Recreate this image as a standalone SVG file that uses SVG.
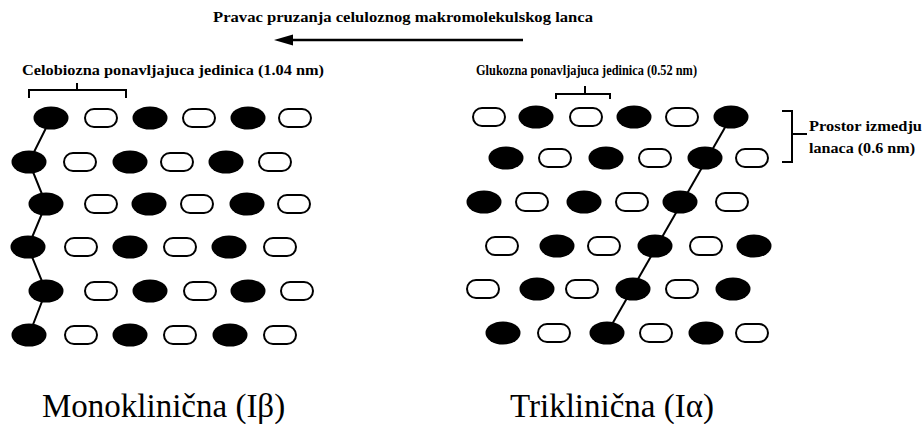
<svg xmlns="http://www.w3.org/2000/svg" xmlns:xlink="http://www.w3.org/1999/xlink" width="924" height="424" viewBox="0 0 924 424">
<style>
.hb{font-family:"Liberation Serif","DejaVu Serif","Times New Roman",Times,serif;font-weight:bold;fill:#000}
.lb{font-family:"Liberation Serif","DejaVu Serif","Times New Roman",Times,serif;fill:#000;font-size:33px}
.ln{stroke:#000;stroke-width:2;fill:none}
.f{fill:#000}
.o{fill:#fff;stroke:#000;stroke-width:2}
</style>
<defs>
<ellipse id="F" class="f" cx="0" cy="0" rx="17.5" ry="11.5"/>
<rect id="O" class="o" x="-16" y="-9" width="32" height="18" rx="9"/>
</defs>
<rect width="924" height="424" fill="#fff"/>

<g id="title">
<text class="hb" font-family="Liberation Serif, DejaVu Serif, serif" x="213" y="22" font-size="15" textLength="380" lengthAdjust="spacingAndGlyphs">Pravac pruzanja celuloznog makromolekulskog lanca</text>
</g>

<g id="connectors">
<line x1="523" y1="40" x2="291" y2="40" stroke="#000" stroke-width="2.5"/>
<path d="M274,40 L293,34.5 L293,45.5 Z" fill="#000"/>
<polyline class="ln" points="51,118 29,162 46,204 28,247 46,291 29,335"/>
<line class="ln" x1="731" y1="117" x2="607" y2="333"/>
</g>

<g id="label-celobioza">
<text class="hb" font-family="Liberation Serif, DejaVu Serif, serif" x="22" y="75" font-size="15" textLength="302" lengthAdjust="spacingAndGlyphs">Celobiozna ponavljajuca jedinica (1.04 nm)</text>
<path class="ln" d="M29,98 V90 H126 V98 M77,90 V83"/>
</g>

<g id="label-glukoza">
<text class="hb" font-family="Liberation Serif, DejaVu Serif, serif" x="476" y="75" font-size="15" textLength="221" lengthAdjust="spacingAndGlyphs">Glukozna ponavljajuca jedinica (0.52 nm)</text>
<path class="ln" d="M556,99 V94 H610 V99 M585,94 V86"/>
</g>

<g id="label-prostor">
<path class="ln" d="M782,111 H792 V162 H782 M792,134 H807"/>
<text class="hb" font-family="Liberation Serif, DejaVu Serif, serif" x="809" y="131" font-size="15" textLength="113" lengthAdjust="spacingAndGlyphs">Prostor izmedju</text>
<text class="hb" font-family="Liberation Serif, DejaVu Serif, serif" x="809" y="153" font-size="15" textLength="106" lengthAdjust="spacingAndGlyphs">lanaca (0.6 nm)</text>
</g>

<g id="monoclinic">
<g id="m-row1">
<use xlink:href="#F" x="51" y="118"/><use xlink:href="#O" x="101" y="118"/><use xlink:href="#F" x="150" y="118"/><use xlink:href="#O" x="199" y="118"/><use xlink:href="#F" x="248" y="118"/><use xlink:href="#O" x="295" y="118"/>
</g>
<g id="m-row2">
<use xlink:href="#F" x="29" y="162"/><use xlink:href="#O" x="80" y="162"/><use xlink:href="#F" x="130" y="162"/><use xlink:href="#O" x="177" y="162"/><use xlink:href="#F" x="226" y="162"/><use xlink:href="#O" x="275" y="162"/>
</g>
<g id="m-row3">
<use xlink:href="#F" x="46" y="204"/><use xlink:href="#O" x="101" y="204"/><use xlink:href="#F" x="149" y="204"/><use xlink:href="#O" x="197" y="204"/><use xlink:href="#F" x="247" y="204"/><use xlink:href="#O" x="294" y="204"/>
</g>
<g id="m-row4">
<use xlink:href="#F" x="28" y="247"/><use xlink:href="#O" x="81" y="247"/><use xlink:href="#F" x="130" y="247"/><use xlink:href="#O" x="180" y="247"/><use xlink:href="#F" x="229" y="247"/><use xlink:href="#O" x="280" y="247"/>
</g>
<g id="m-row5">
<use xlink:href="#F" x="46" y="291"/><use xlink:href="#O" x="101" y="291"/><use xlink:href="#F" x="150" y="291"/><use xlink:href="#O" x="200" y="291"/><use xlink:href="#F" x="248" y="291"/><use xlink:href="#O" x="297" y="291"/>
</g>
<g id="m-row6">
<use xlink:href="#F" x="29" y="335"/><use xlink:href="#O" x="81" y="335"/><use xlink:href="#F" x="130" y="335"/><use xlink:href="#O" x="180" y="335"/><use xlink:href="#F" x="230" y="335"/><use xlink:href="#O" x="280" y="335"/>
</g>
</g>

<g id="triclinic">
<g id="t-row1">
<use xlink:href="#O" x="489" y="117"/><use xlink:href="#F" x="536" y="117"/><use xlink:href="#O" x="586" y="117"/><use xlink:href="#F" x="634" y="117"/><use xlink:href="#O" x="682" y="117"/><use xlink:href="#F" x="731" y="117"/>
</g>
<g id="t-row2">
<use xlink:href="#F" x="506" y="158"/><use xlink:href="#O" x="555" y="158"/><use xlink:href="#F" x="606" y="158"/><use xlink:href="#O" x="655" y="158"/><use xlink:href="#F" x="705" y="158"/><use xlink:href="#O" x="752" y="158"/>
</g>
<g id="t-row3">
<use xlink:href="#F" x="484" y="202"/><use xlink:href="#O" x="532" y="202"/><use xlink:href="#F" x="584" y="202"/><use xlink:href="#O" x="632" y="202"/><use xlink:href="#F" x="680" y="202"/><use xlink:href="#O" x="732" y="202"/>
</g>
<g id="t-row4">
<use xlink:href="#O" x="502" y="246"/><use xlink:href="#F" x="557" y="246"/><use xlink:href="#O" x="604" y="246"/><use xlink:href="#F" x="655" y="246"/><use xlink:href="#O" x="706" y="246"/><use xlink:href="#F" x="754" y="246"/>
</g>
<g id="t-row5">
<use xlink:href="#O" x="483" y="289"/><use xlink:href="#F" x="537" y="289"/><use xlink:href="#O" x="582" y="289"/><use xlink:href="#F" x="633" y="289"/><use xlink:href="#O" x="682" y="289"/><use xlink:href="#F" x="733" y="289"/>
</g>
<g id="t-row6">
<use xlink:href="#F" x="503" y="333"/><use xlink:href="#O" x="554" y="333"/><use xlink:href="#F" x="607" y="333"/><use xlink:href="#O" x="656" y="333"/><use xlink:href="#F" x="706" y="333"/><use xlink:href="#O" x="752" y="333"/>
</g>
</g>

<g id="label-mono">
<text class="lb" font-family="Liberation Serif, DejaVu Serif, serif" x="42" y="417">Monoklinična (Iβ)</text>
</g>
<g id="label-tri">
<text class="lb" font-family="Liberation Serif, DejaVu Serif, serif" x="510" y="417">Triklinična (Iα)</text>
</g>
</svg>
